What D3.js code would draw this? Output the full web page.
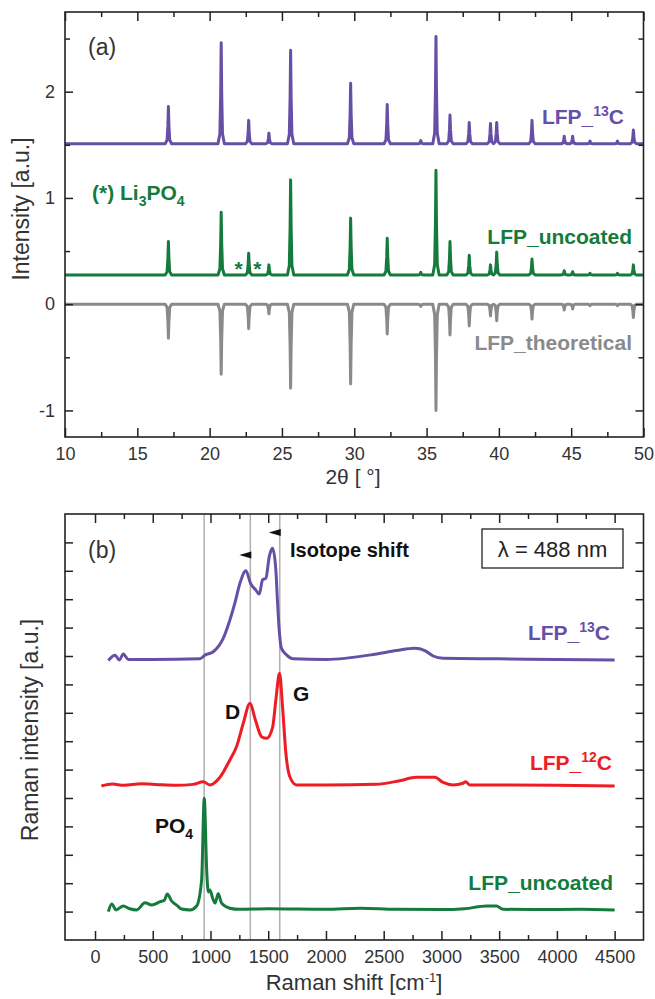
<!DOCTYPE html>
<html>
<head>
<meta charset="utf-8">
<script src="https://cdn.jsdelivr.net/npm/d3@7"></script>
<style>
  body { margin: 0; background: #fff; }
  svg text { font-family: "Liberation Sans", Arial, sans-serif; }
</style>
</head>
<body>
<div id="chart"></div>
<script>
// ---- panel (a): XRD, peak positions [2theta] and peak tops [a.u.]
const xrdPos = [17.15, 20.8, 22.7, 24.1, 25.6, 29.75, 32.28, 34.6, 35.65, 36.62, 37.95, 39.42, 39.85, 42.29, 44.52, 45.1, 46.3, 48.2, 49.3];
const lfp13cBase = 1.51;
const lfp13cPeaks = [1.86, 2.46, 1.73, 1.61, 2.39, 2.08, 1.88, 1.54, 2.52, 1.78, 1.71, 1.70, 1.71, 1.73, 1.58, 1.58, 1.535, 1.535, 1.64];
const uncoatedBase = 0.275;
const uncoatedPeaks = [0.59, 0.865, 0.48, 0.37, 1.17, 0.81, 0.62, 0.30, 1.26, 0.59, 0.46, 0.37, 0.49, 0.425, 0.315, 0.305, 0.29, 0.29, 0.37];
const theoBase = 0;
const theoPeaks = [-0.32, -0.66, -0.23, -0.09, -0.79, -0.75, -0.28, -0.02, -1.0, -0.29, -0.205, -0.11, -0.155, -0.14, -0.055, -0.045, -0.015, -0.015, -0.125];
const xrdXTicks = [10, 15, 20, 25, 30, 35, 40, 45, 50];
const xrdXMinor = [12.5, 17.5, 22.5, 27.5, 32.5, 37.5, 42.5, 47.5];
const xrdYTicks = [-1, 0, 1, 2];
const xrdYMinor = [-0.5, 0.5, 1.5, 2.5];
const li3po4Marks = [22.0, 23.3];

// ---- panel (b): Raman, [shift cm-1, intensity]
const ramanLfp13c = [[115, 9.84], [173, 10.03], [210, 9.86], [245, 10.07], [288, 9.88], [500, 9.88], [908, 9.9], [952, 10.03], [1024, 10.15], [1110, 10.62], [1168, 11.27], [1211, 11.86], [1255, 12.56], [1307, 13.0], [1347, 12.56], [1393, 12.32], [1422, 12.18], [1451, 12.68], [1480, 12.74], [1509, 13.5], [1538, 13.79], [1566, 13.03], [1581, 11.86], [1595, 10.92], [1615, 10.27], [1659, 10.04], [1716, 9.9], [2000, 9.88], [2423, 10.06], [2611, 10.19], [2769, 10.27], [2856, 10.19], [2928, 10.0], [3014, 9.92], [3500, 9.9], [4000, 9.88], [4500, 9.86]];
const ramanLfp12c = [[55, 5.42], [150, 5.49], [250, 5.45], [400, 5.5], [550, 5.47], [700, 5.45], [850, 5.48], [937, 5.57], [995, 5.46], [1082, 5.73], [1168, 6.34], [1226, 6.81], [1284, 7.63], [1341, 8.33], [1393, 7.69], [1442, 7.16], [1486, 7.1], [1538, 7.49], [1566, 8.45], [1598, 9.39], [1624, 8.21], [1653, 6.57], [1687, 5.75], [1745, 5.46], [2000, 5.46], [2437, 5.48], [2639, 5.61], [2784, 5.73], [2942, 5.73], [3014, 5.55], [3101, 5.46], [3187, 5.52], [3210, 5.57], [3245, 5.46], [3600, 5.46], [4000, 5.45], [4500, 5.42]];
const ramanUncoated = [[115, 1.0], [145, 1.27], [182, 1.06], [245, 1.2], [300, 1.1], [361, 1.06], [433, 1.31], [491, 1.23], [565, 1.35], [600, 1.4], [626, 1.62], [664, 1.37], [707, 1.23], [750, 1.09], [822, 1.06], [880, 1.2], [923, 2.11], [946, 4.99], [967, 2.46], [981, 1.69], [995, 1.76], [1018, 1.48], [1040, 1.3], [1067, 1.64], [1096, 1.3], [1168, 1.12], [1250, 1.08], [1500, 1.1], [2000, 1.08], [2300, 1.12], [2600, 1.08], [3000, 1.07], [3200, 1.1], [3390, 1.2], [3476, 1.2], [3533, 1.08], [3800, 1.07], [4200, 1.08], [4500, 1.06]];
const ramanLines = [945, 1345, 1600];
const shiftArrows = [[1345, 13.56], [1600, 14.35]];
const ramanXTicks = [0, 500, 1000, 1500, 2000, 2500, 3000, 3500, 4000, 4500];
const ramanXMinor = [250, 750, 1250, 1750, 2250, 2750, 3250, 3750, 4250];
const ramanYTicks = [1, 2, 3, 4, 5, 6, 7, 8, 9, 10, 11, 12, 13, 14];

const purple = "#6650a6", green = "#147b3d", red = "#ee1c25", grey = "#8a8a8a";

const svg = d3.select("#chart").append("svg")
    .attr("width", 655)
    .attr("height", 999);

const boxA = {left: 65, right: 643.5, top: 12, bottom: 437};
const boxB = {left: 65, right: 643.5, top: 514, bottom: 940};

const xA = d3.scaleLinear().domain([10, 50]).range([boxA.left, boxA.right]);
const yA = d3.scaleLinear().domain([-1.25, 2.75]).range([boxA.bottom, boxA.top]);
const xB = d3.scaleLinear().domain([-260, 4750]).range([boxB.left, boxB.right]);
const yB = d3.scaleLinear().domain([0, 15]).range([boxB.bottom, boxB.top]);

function drawFrame(x, y, box, xMajor, xMinor, yMajor, yMinor, yLabels, xPad) {
    const g = svg.append("g");
    g.append("g").attr("transform", `translate(0,${box.bottom})`)
        .call(d3.axisBottom(x).tickValues(xMinor).tickSize(-5).tickFormat(""));
    g.append("g").attr("transform", `translate(0,${box.bottom})`)
        .call(d3.axisBottom(x).tickValues(xMajor).tickSize(-9).tickPadding(xPad).tickFormat(d => String(d)));
    g.append("g").attr("transform", `translate(0,${box.top})`)
        .call(d3.axisTop(x).tickValues(xMinor).tickSize(-5).tickFormat(""));
    g.append("g").attr("transform", `translate(0,${box.top})`)
        .call(d3.axisTop(x).tickValues(xMajor).tickSize(-9).tickFormat(""));
    g.append("g").attr("transform", `translate(${box.left},0)`)
        .call(d3.axisLeft(y).tickValues(yMinor).tickSize(-5).tickFormat(""));
    g.append("g").attr("transform", `translate(${box.left},0)`)
        .call(d3.axisLeft(y).tickValues(yMajor).tickSize(-8).tickPadding(10)
            .tickFormat(yLabels ? (d => String(d)) : ""));
    g.append("g").attr("transform", `translate(${box.right},0)`)
        .call(d3.axisRight(y).tickValues(yMinor).tickSize(-5).tickFormat(""));
    g.append("g").attr("transform", `translate(${box.right},0)`)
        .call(d3.axisRight(y).tickValues(yMajor).tickSize(-8).tickFormat(""));
    g.selectAll(".domain").remove();
    g.selectAll(".tick line").attr("stroke", "#222").attr("stroke-width", 1.5);
    g.selectAll(".tick text").attr("fill", "#333").style("font-size", "18px");
    g.append("rect")
        .attr("x", box.left).attr("y", box.top)
        .attr("width", box.right - box.left).attr("height", box.bottom - box.top)
        .attr("fill", "none").attr("stroke", "#222").attr("stroke-width", 1.6);
}

// ---------- panel (a)
function xrdPoints(base, peaks) {
    const pts = [[10, base]];
    xrdPos.forEach((p, i) => {
        const h = peaks[i] - base;
        pts.push([p - 0.22, base], [p - 0.09, base + 0.1 * h], [p - 0.035, base + 0.5 * h], [p, base + h],
                 [p + 0.035, base + 0.5 * h], [p + 0.09, base + 0.1 * h], [p + 0.22, base]);
    });
    pts.push([50, base]);
    return pts;
}

const lineA = d3.line().x(d => xA(d[0])).y(d => yA(d[1]));
[[theoBase, theoPeaks, grey], [uncoatedBase, uncoatedPeaks, green], [lfp13cBase, lfp13cPeaks, purple]]
    .forEach(s => {
        svg.append("path")
            .attr("d", lineA(xrdPoints(s[0], s[1])))
            .attr("fill", "none")
            .attr("stroke", s[2])
            .attr("stroke-width", 3)
            .attr("stroke-linejoin", "round");
    });

drawFrame(xA, yA, boxA, xrdXTicks, xrdXMinor, xrdYTicks, xrdYMinor, true, 10);

svg.append("text").attr("x", 88).attr("y", 55).attr("fill", "#333")
    .style("font-size", "23px").text("(a)");

function seriesLabel(x, y, color, parts, anchor) {
    const t = svg.append("text").attr("x", x).attr("y", y)
        .attr("fill", color).attr("text-anchor", anchor || "end")
        .style("font-size", "21px").style("font-weight", "bold");
    parts.forEach(p => {
        const ts = t.append("tspan").text(p[0]);
        if (p[1]) ts.attr("dy", p[1]);
        if (p[2]) ts.style("font-size", p[2]);
    });
    return t;
}

seriesLabel(624, 124, purple, [["LFP_"], ["13", -8, "14px"], ["C", 8]]);
seriesLabel(632, 244, green, [["LFP_uncoated"]]);
seriesLabel(632, 350, grey, [["LFP_theoretical"]]);
seriesLabel(92, 200, green, [["(*) Li"], ["3", 6, "14px"], ["PO", -6], ["4", 6, "14px"]], "start");

svg.selectAll(".star").data(li3po4Marks).enter().append("text")
    .attr("class", "star")
    .attr("x", d => xA(d)).attr("y", 276)
    .attr("text-anchor", "middle").attr("fill", green)
    .style("font-size", "21px").style("font-weight", "bold")
    .text("*");

svg.append("text").attr("transform", "translate(29,209) rotate(-90)")
    .attr("text-anchor", "middle").attr("fill", "#333")
    .style("font-size", "23px").text("Intensity [a.u.]");
svg.append("text").attr("x", 353).attr("y", 484)
    .attr("text-anchor", "middle").attr("fill", "#333")
    .style("font-size", "21px").text("2θ [ °]");

// ---------- panel (b)
svg.selectAll(".vline").data(ramanLines).enter().append("line")
    .attr("class", "vline")
    .attr("x1", d => xB(d)).attr("x2", d => xB(d))
    .attr("y1", boxB.top).attr("y2", boxB.bottom)
    .attr("stroke", "#b0b0b0").attr("stroke-width", 1.5);

const lineB = d3.line().x(d => xB(d[0])).y(d => yB(d[1])).curve(d3.curveMonotoneX);
[[ramanUncoated, green], [ramanLfp12c, red], [ramanLfp13c, purple]].forEach(s => {
    svg.append("path")
        .attr("d", lineB(s[0]))
        .attr("fill", "none")
        .attr("stroke", s[1])
        .attr("stroke-width", 3)
        .attr("stroke-linejoin", "round");
});

drawFrame(xB, yB, boxB, ramanXTicks, ramanXMinor, ramanYTicks, [], false, 10);

svg.selectAll(".arrow").data(shiftArrows).enter().append("path")
    .attr("class", "arrow")
    .attr("d", d => {
        const bx = xB(d[0]) + 1, by = yB(d[1]);
        return `M${bx - 12},${by} L${bx},${by - 3.5} L${bx},${by + 3.5} Z`;
    })
    .attr("fill", "#111");

svg.append("text").attr("x", 88).attr("y", 558).attr("fill", "#333")
    .style("font-size", "23px").text("(b)");
svg.append("text").attr("x", 290).attr("y", 557).attr("fill", "#111")
    .style("font-size", "20px").style("font-weight", "bold").text("Isotope shift");

svg.append("rect").attr("x", 482).attr("y", 529).attr("width", 141).attr("height", 39)
    .attr("fill", "#fff").attr("stroke", "#222").attr("stroke-width", 1.3);
svg.append("text").attr("x", 552.5).attr("y", 557).attr("text-anchor", "middle")
    .attr("fill", "#222").style("font-size", "22px").text("λ = 488 nm");

seriesLabel(610, 640, purple, [["LFP_"], ["13", -8, "14px"], ["C", 8]]);
seriesLabel(612, 770, red, [["LFP_"], ["12", -8, "14px"], ["C", 8]]);
seriesLabel(613, 890, green, [["LFP_uncoated"]]);
seriesLabel(225, 719, "#111", [["D"]], "start");
seriesLabel(293, 701, "#111", [["G"]], "start");
seriesLabel(155, 833, "#111", [["PO"], ["4", 6, "14px"]], "start");

svg.append("text").attr("transform", "translate(38,730) rotate(-90)")
    .attr("text-anchor", "middle").attr("fill", "#333")
    .style("font-size", "23px").text("Raman intensity [a.u.]");
const xt = svg.append("text").attr("x", 354).attr("y", 990)
    .attr("text-anchor", "middle").attr("fill", "#333")
    .style("font-size", "22px");
xt.append("tspan").text("Raman shift [cm");
xt.append("tspan").attr("dy", -8).style("font-size", "13px").text("-1");
xt.append("tspan").attr("dy", 8).text("]");
</script>
</body>
</html>
